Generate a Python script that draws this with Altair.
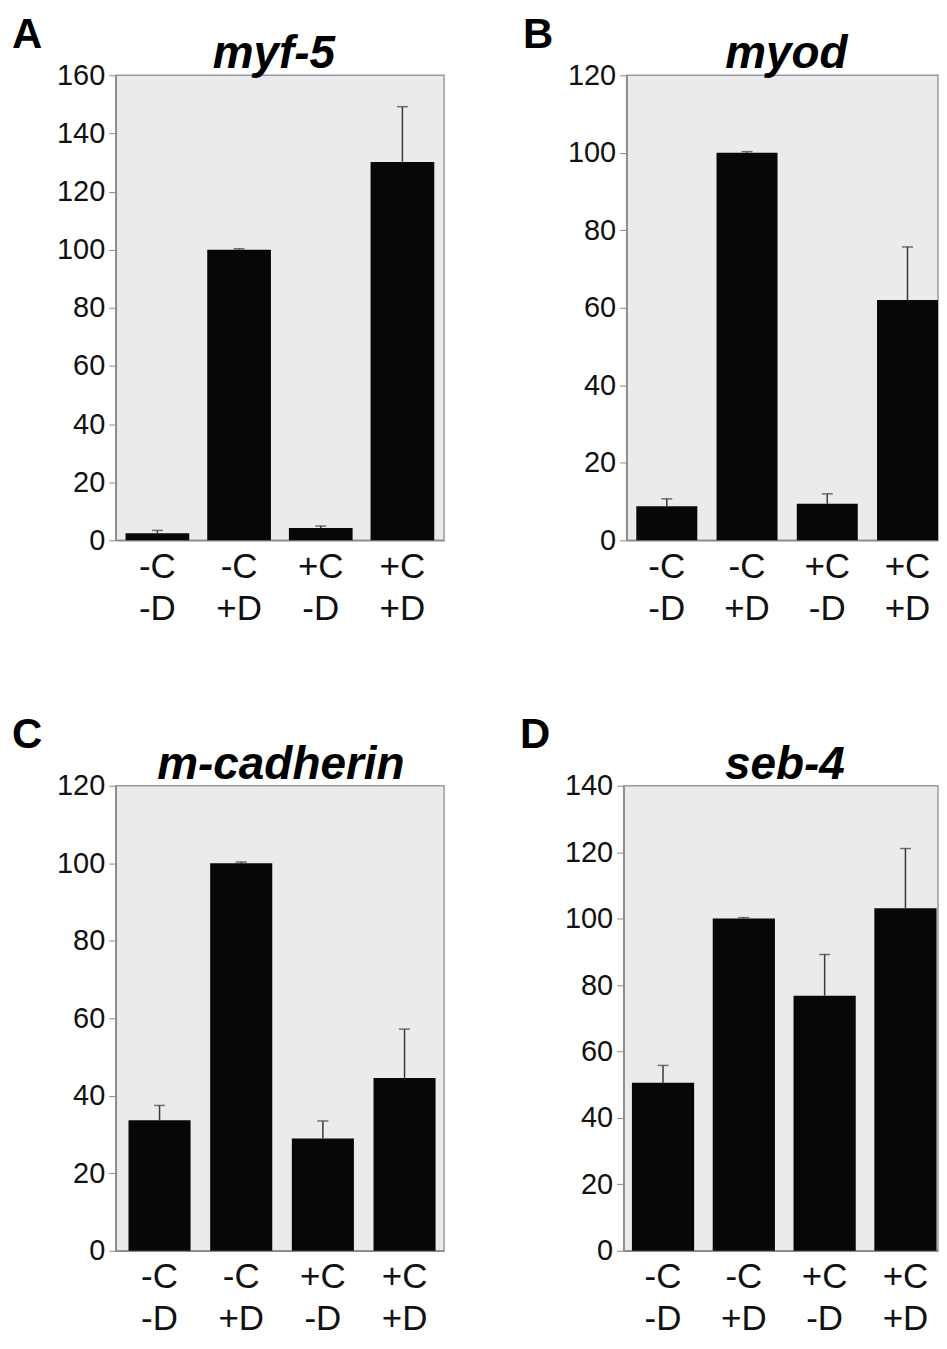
import altair as alt
import pandas as pd

# ---- data ----
conditions = ["-C -D", "-C +D", "+C -D", "+C +D"]

letters = ["A", "B", "C", "D"]
genes = ["myf-5", "myod", "m-cadherin", "seb-4"]
y_max = [160, 120, 120, 140]

myf5_mean = [2.4, 100.0, 4.2, 130.2]
myf5_err = [1.0, 0.3, 0.7, 19.0]

myod_mean = [8.8, 100.0, 9.4, 62.0]
myod_err = [1.9, 0.3, 2.6, 13.7]

mcad_mean = [33.7, 100.0, 29.0, 44.6]
mcad_err = [3.8, 0.3, 4.5, 12.6]

seb4_mean = [50.6, 100.0, 76.8, 103.1]
seb4_err = [5.2, 0.3, 12.4, 18.0]

FONT = "Liberation Sans"
PLOT_H = 466


def panel(letter, gene, means, errs, ymax, width, pin, pout, align, letter_dy, title_dx):
    df = pd.DataFrame({"cond": conditions, "mean": means, "err": errs})
    df["top"] = df["mean"] + df["err"]

    xscale = alt.Scale(paddingInner=pin, paddingOuter=pout, align=align)
    x = alt.X(
        "cond:N",
        sort=conditions,
        scale=xscale,
        axis=alt.Axis(
            title=None,
            labelAngle=0,
            labelExpr="split(datum.label, ' ')",
            labelFontSize=35,
            labelLineHeight=42,
            labelPadding=9,
            ticks=False,
            domainColor="#8a8a8a",
            domainWidth=1.5,
        ),
    )
    y = alt.Y(
        "mean:Q",
        scale=alt.Scale(domain=[0, ymax], nice=False, zero=True),
        axis=alt.Axis(
            title=None,
            values=list(range(0, ymax + 1, 20)),
            grid=False,
            labelFontSize=29,
            labelPadding=4,
            tickSize=7,
            tickColor="#8a8a8a",
            domainColor="#8a8a8a",
            domainWidth=1.5,
        ),
    )
    base = alt.Chart(df)
    bars = base.mark_bar(color="#050708").encode(x=x, y=y)
    rule = base.mark_rule(color="#3a3a3a", strokeWidth=1.5).encode(
        x=alt.X("cond:N", sort=conditions), y="mean:Q", y2="top:Q"
    )
    cap = base.mark_tick(color="#3a3a3a", size=11, thickness=1.5).encode(
        x=alt.X("cond:N", sort=conditions), y="top:Q"
    )
    letter_t = (
        alt.Chart(pd.DataFrame({"t": [letter]}))
        .mark_text(font=FONT, fontSize=42, fontWeight="bold", align="left",
                   baseline="top", color="#000")
        .encode(text="t:N", x=alt.value(-104), y=alt.value(letter_dy))
    )
    title_t = (
        alt.Chart(pd.DataFrame({"t": [gene]}))
        .mark_text(font=FONT, fontSize=46, fontWeight="bold", fontStyle="italic",
                   align="center", baseline="alphabetic", color="#000")
        .encode(text="t:N", x=alt.value(width / 2 + title_dx), y=alt.value(-7))
    )
    return alt.layer(bars, rule, cap, letter_t, title_t).properties(
        width=width, height=PLOT_H
    )


pA = panel(letters[0], genes[0], myf5_mean, myf5_err, y_max[0], 329, 0.22, 0.12, 0.5, -60, -6)
pB = panel(letters[1], genes[1], myod_mean, myod_err, y_max[1], 312, 0.24, 0.06, 1.0, -60, 4)
pC = panel(letters[2], genes[2], mcad_mean, mcad_err, y_max[2], 329, 0.24, 0.13, 0.6, -71, 1)
pD = panel(letters[3], genes[3], seb4_mean, seb4_err, y_max[3], 315, 0.23, 0.06, 0.85, -71, 4)

row1 = alt.hconcat(pA, pB, spacing=77)
row2 = alt.hconcat(pC, pD, spacing=74)

chart = (
    alt.vconcat(row1, row2, spacing=86)
    .properties(padding={"left": 3, "top": 4, "right": 0, "bottom": 0})
    .configure_view(stroke="#9a9a9a", strokeWidth=1.5, fill="#ebebed")
    .configure_axis(labelFont=FONT, labelColor="#111")
)

chart.save("out.html", embed_options={"renderer": "svg", "actions": False})
